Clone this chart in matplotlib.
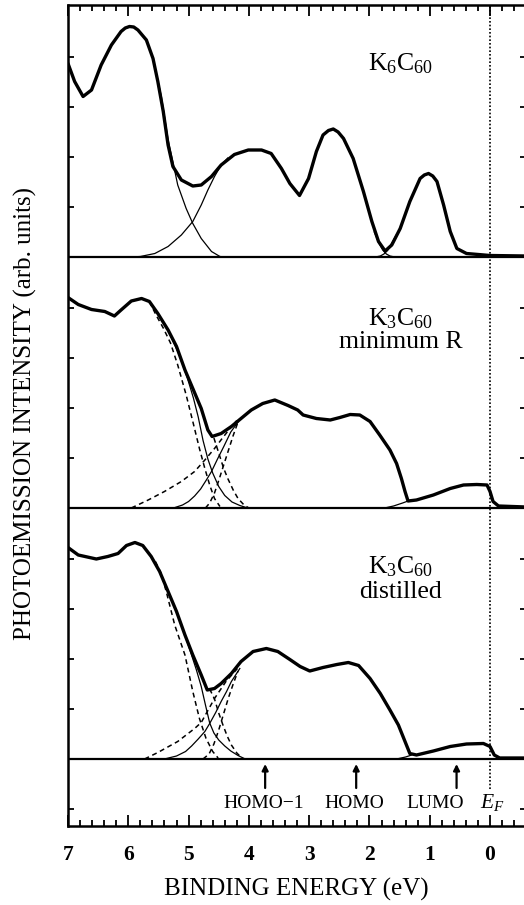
import numpy as np
import matplotlib
matplotlib.use("Agg")
import matplotlib.pyplot as plt
from matplotlib.ticker import MultipleLocator

plt.rcParams['font.family'] = ['Liberation Serif', 'DejaVu Serif']
plt.rcParams['mathtext.fontset'] = 'custom'
plt.rcParams['mathtext.rm'] = 'Liberation Serif'
plt.rcParams['mathtext.it'] = 'Liberation Serif:italic'
plt.rcParams['mathtext.bf'] = 'Liberation Serif:bold'

# ---------------- data (binding energy eV, intensity in tick units) ----------------
TOP_MAIN = [(7.00, 3.87), (6.89, 3.51), (6.75, 3.21), (6.61, 3.34), (6.45, 3.84), (6.28, 4.24),
            (6.12, 4.51), (6.05, 4.58), (5.98, 4.61), (5.91, 4.60), (5.84, 4.54), (5.70, 4.34),
            (5.59, 3.97), (5.51, 3.51), (5.42, 2.91), (5.34, 2.24), (5.26, 1.81), (5.12, 1.54),
            (4.93, 1.42), (4.79, 1.44), (4.62, 1.61), (4.46, 1.84), (4.24, 2.05), (4.01, 2.14),
            (3.79, 2.14), (3.63, 2.07), (3.46, 1.77), (3.32, 1.47), (3.16, 1.23), (3.01, 1.57),
            (2.88, 2.11), (2.77, 2.44), (2.68, 2.53), (2.60, 2.56), (2.52, 2.50), (2.43, 2.37),
            (2.27, 1.97), (2.10, 1.31), (1.96, 0.71), (1.85, 0.31), (1.74, 0.12), (1.63, 0.24),
            (1.49, 0.57), (1.33, 1.11), (1.16, 1.57), (1.09, 1.64), (1.02, 1.67), (0.95, 1.62),
            (0.88, 1.51), (0.77, 1.04), (0.66, 0.51), (0.55, 0.17), (0.39, 0.07), (0.00, 0.03),
            (-0.60, 0.02)]
TOP_COMP_A = [(5.55, 3.75), (5.45, 3.20), (5.34, 2.35), (5.26, 1.90), (5.18, 1.44), (5.04, 0.97),
              (4.93, 0.67), (4.79, 0.37), (4.62, 0.11), (4.48, 0.01), (4.40, 0.0)]
TOP_COMP_B = [(5.95, 0.0), (5.80, 0.01), (5.56, 0.07), (5.34, 0.21), (5.12, 0.44), (4.93, 0.71),
              (4.79, 1.04), (4.68, 1.34), (4.57, 1.61), (4.46, 1.84), (4.35, 1.98)]
TOP_COMP_C1 = [(1.92, 0.50), (1.84, 0.27), (1.78, 0.14), (1.72, 0.06), (1.66, 0.02), (1.58, 0.0)]
TOP_COMP_C2 = [(1.90, 0.0), (1.82, 0.02), (1.76, 0.06), (1.70, 0.13), (1.62, 0.30), (1.55, 0.45)]

MID_MAIN = [(7.00, 4.21), (6.83, 4.07), (6.61, 3.97), (6.39, 3.93), (6.23, 3.84), (6.12, 3.96),
            (5.95, 4.14), (5.78, 4.19), (5.65, 4.13), (5.51, 3.89), (5.34, 3.56), (5.20, 3.23),
            (5.06, 2.76), (4.93, 2.39), (4.79, 1.99), (4.68, 1.56), (4.61, 1.43), (4.46, 1.49),
            (4.29, 1.63), (4.13, 1.79), (3.96, 1.96), (3.77, 2.09), (3.57, 2.16), (3.35, 2.05),
            (3.19, 1.96), (3.10, 1.86), (2.88, 1.79), (2.65, 1.76), (2.49, 1.81), (2.32, 1.87),
            (2.16, 1.86), (1.99, 1.73), (1.83, 1.46), (1.66, 1.16), (1.55, 0.89), (1.47, 0.59),
            (1.41, 0.33), (1.36, 0.14), (1.22, 0.16), (0.94, 0.26), (0.66, 0.39), (0.44, 0.46),
            (0.22, 0.47), (0.05, 0.46), (0.00, 0.33), (-0.05, 0.13), (-0.14, 0.04), (-0.60, 0.02)]
MID_SOLID_FALL = [(5.30, 3.45), (5.15, 3.05), (5.02, 2.60), (4.92, 2.20), (4.84, 1.82), (4.76, 1.35),
                  (4.68, 0.98), (4.60, 0.70), (4.50, 0.43), (4.40, 0.25), (4.28, 0.12), (4.15, 0.05),
                  (4.02, 0.0)]
MID_SOLID_RISE = [(5.25, 0.0), (5.10, 0.06), (5.00, 0.13), (4.90, 0.24), (4.80, 0.38), (4.70, 0.57),
                  (4.62, 0.73), (4.52, 0.98), (4.42, 1.22), (4.30, 1.52), (4.18, 1.72)]
MID_DASH_FALL_L = [(5.65, 4.13), (5.54, 3.86), (5.42, 3.60), (5.30, 3.30), (5.18, 2.86), (5.04, 2.26),
                   (4.93, 1.73), (4.82, 1.19), (4.73, 0.79), (4.65, 0.46), (4.57, 0.19), (4.48, 0.03)]
MID_DASH_FALL_R = [(4.58, 1.40), (4.50, 1.10), (4.42, 0.80), (4.35, 0.59), (4.26, 0.36), (4.18, 0.19),
                   (4.08, 0.06), (4.00, 0.0)]
MID_DASH_RISE_L = [(5.95, 0.0), (5.67, 0.16), (5.40, 0.33), (5.12, 0.53), (4.90, 0.73), (4.73, 0.96),
                   (4.57, 1.19), (4.45, 1.38), (4.32, 1.58), (4.20, 1.75)]
MID_DASH_RISE_R = [(4.72, 0.0), (4.65, 0.10), (4.57, 0.30), (4.50, 0.55), (4.42, 0.85), (4.34, 1.15),
                   (4.26, 1.45), (4.18, 1.72)]
MID_LUMO_TAIL = [(1.75, 0.0), (1.60, 0.04), (1.45, 0.10), (1.36, 0.14)]

BOT_MAIN = [(7.00, 4.23), (6.83, 4.08), (6.53, 4.00), (6.34, 4.05), (6.17, 4.11), (6.03, 4.27),
            (5.89, 4.33), (5.76, 4.27), (5.62, 4.05), (5.48, 3.75), (5.34, 3.35), (5.20, 2.95),
            (5.06, 2.48), (4.93, 2.08), (4.79, 1.68), (4.69, 1.38), (4.57, 1.41), (4.46, 1.51),
            (4.29, 1.71), (4.13, 1.95), (3.93, 2.15), (3.71, 2.21), (3.52, 2.15), (3.32, 1.99),
            (3.15, 1.85), (2.99, 1.76), (2.77, 1.83), (2.54, 1.89), (2.35, 1.93), (2.18, 1.87),
            (1.99, 1.61), (1.82, 1.31), (1.66, 0.98), (1.52, 0.68), (1.41, 0.35), (1.33, 0.11),
            (1.22, 0.08), (0.94, 0.16), (0.66, 0.25), (0.39, 0.30), (0.11, 0.31), (0.00, 0.25),
            (-0.07, 0.08), (-0.16, 0.02), (-0.60, 0.02)]
BOT_SOLID_FALL = [(5.25, 3.10), (5.10, 2.62), (4.97, 2.15), (4.87, 1.78), (4.79, 1.45), (4.72, 1.08),
                  (4.65, 0.72), (4.58, 0.52), (4.50, 0.38), (4.40, 0.26), (4.30, 0.16), (4.18, 0.07),
                  (4.06, 0.0)]
BOT_SOLID_RISE = [(5.40, 0.0), (5.20, 0.06), (5.05, 0.15), (4.95, 0.26), (4.84, 0.40), (4.73, 0.55),
                  (4.65, 0.71), (4.55, 0.93), (4.46, 1.15), (4.37, 1.35), (4.29, 1.55), (4.15, 1.81)]
BOT_DASH_FALL_L = [(5.55, 3.95), (5.45, 3.70), (5.36, 3.30), (5.23, 2.68), (5.06, 2.08), (4.93, 1.35),
                   (4.82, 0.81), (4.71, 0.41), (4.60, 0.15), (4.51, 0.02)]
BOT_DASH_FALL_R = [(4.65, 1.40), (4.57, 1.20), (4.50, 0.92), (4.43, 0.68), (4.36, 0.46), (4.29, 0.28),
                   (4.20, 0.12), (4.10, 0.0)]
BOT_DASH_RISE_L = [(5.73, 0.0), (5.51, 0.13), (5.18, 0.35), (4.90, 0.61), (4.79, 0.73), (4.57, 1.21),
                   (4.38, 1.55), (4.19, 1.81)]
BOT_DASH_RISE_R = [(4.76, 0.0), (4.66, 0.10), (4.58, 0.30), (4.50, 0.58), (4.42, 0.90), (4.34, 1.22),
                   (4.26, 1.50), (4.18, 1.76)]
BOT_LUMO_TAIL = [(1.55, 0.0), (1.40, 0.04), (1.30, 0.08)]

PANEL_OFFSETS = [10.04, 5.02, 0.0]
PANEL_LINE1 = [r'K$_6$C$_{60}$', r'K$_3$C$_{60}$', r'K$_3$C$_{60}$']
PANEL_LINE2 = [None, 'minimum R', 'distilled']
ARROW_E = [3.73, 2.22, 0.555]
LEVEL_LABELS = ['HOMO\u22121', 'HOMO', 'LUMO', '$E_F$']
LEVEL_LABEL_E = [3.75, 2.25, 0.91, -0.04]
LEVEL_LABEL_SIZE = [14, 14, 14, 15.5]
XTICKS = [7, 6, 5, 4, 3, 2, 1, 0]

# ---------------- figure ----------------
W, H = 524, 905
fig = plt.figure(figsize=(W / 100, H / 100), dpi=100)
ax = fig.add_axes([68 / W, (H - 826) / H, 458 / W, 821 / H])
ax.set_xlim(7, 7 - 458 / 60.29)
ax.set_ylim(-1.34, 15.08)

main_kw = dict(color='k', lw=2.4, solid_joinstyle='round', solid_capstyle='round', zorder=4)
thin_kw = dict(color='k', lw=0.9, zorder=3)
dash_kw = dict(color='k', lw=1.1, dashes=(3.2, 2.4), zorder=3)


def draw(series, off, kw):
    arr = np.array(series)
    ax.plot(arr[:, 0], arr[:, 1] + off, **kw)


o = PANEL_OFFSETS
draw(TOP_MAIN, o[0], main_kw)
for s in (TOP_COMP_A, TOP_COMP_B, TOP_COMP_C1, TOP_COMP_C2):
    draw(s, o[0], thin_kw)

draw(MID_MAIN, o[1], main_kw)
for s in (MID_SOLID_FALL, MID_SOLID_RISE, MID_LUMO_TAIL):
    draw(s, o[1], thin_kw)
for s in (MID_DASH_FALL_L, MID_DASH_FALL_R, MID_DASH_RISE_L, MID_DASH_RISE_R):
    draw(s, o[1], dash_kw)

draw(BOT_MAIN, o[2], main_kw)
for s in (BOT_SOLID_FALL, BOT_SOLID_RISE, BOT_LUMO_TAIL):
    draw(s, o[2], thin_kw)
for s in (BOT_DASH_FALL_L, BOT_DASH_FALL_R, BOT_DASH_RISE_L, BOT_DASH_RISE_R):
    draw(s, o[2], dash_kw)

# panel baselines
for off in PANEL_OFFSETS:
    ax.axhline(off, color='k', lw=1.6, zorder=5)

# Fermi level dotted line
ax.plot([0, 0], [-0.6, 15.08], color='k', lw=1.2, dashes=(1.0, 1.2), zorder=2)

# panel labels (baseline positions)
LABEL_E = 1.48
ax.text(LABEL_E, o[0] + 3.74, PANEL_LINE1[0], ha='center', va='baseline', fontsize=18.5)
ax.text(LABEL_E, o[1] + 3.66, PANEL_LINE1[1], ha='center', va='baseline', fontsize=18.5)
ax.text(LABEL_E, o[1] + 3.20, PANEL_LINE2[1], ha='center', va='baseline', fontsize=18.5)
ax.text(LABEL_E, o[2] + 3.72, PANEL_LINE1[2], ha='center', va='baseline', fontsize=18.5)
ax.text(LABEL_E, o[2] + 3.22, PANEL_LINE2[2], ha='center', va='baseline', fontsize=18.5)

# arrows and level labels
for e in ARROW_E:
    ax.annotate('', xy=(e, -0.10), xytext=(e, -0.58),
                arrowprops=dict(arrowstyle='-|>', lw=1.6, color='k', mutation_scale=9,
                                shrinkA=0, shrinkB=0))
for lab, e, fs in zip(LEVEL_LABELS, LEVEL_LABEL_E, LEVEL_LABEL_SIZE):
    ax.text(e, -0.98, lab, ha='center', va='baseline', fontsize=fs)

# ticks
yt = [-1.0]
for off in PANEL_OFFSETS:
    yt += [off + k for k in (1, 2, 3, 4)]
ax.set_yticks(yt)
ax.tick_params(axis='y', which='both', direction='in', length=4, width=1.3,
               left=True, right=True, labelleft=False, labelright=False)
ax.set_xticks(XTICKS)
ax.xaxis.set_minor_locator(MultipleLocator(0.2))
ax.tick_params(axis='x', which='major', direction='in', length=8, width=1.3,
               top=True, bottom=True, pad=14, labelsize=15.5)
ax.tick_params(axis='x', which='minor', direction='in', length=4, width=1.3,
               top=True, bottom=True)
ax.set_xticklabels([str(t) for t in XTICKS], fontweight='bold')
for sp in ax.spines.values():
    sp.set_linewidth(1.8)

fig.text(296 / W, 1 - 889 / H, 'BINDING ENERGY (eV)', ha='center', va='center', fontsize=18)
fig.text(25 / W, 1 - 414 / H, 'PHOTOEMISSION INTENSITY (arb. units)', ha='center', va='center',
         rotation=90, fontsize=18)

fig.savefig('out.png', dpi=100)
